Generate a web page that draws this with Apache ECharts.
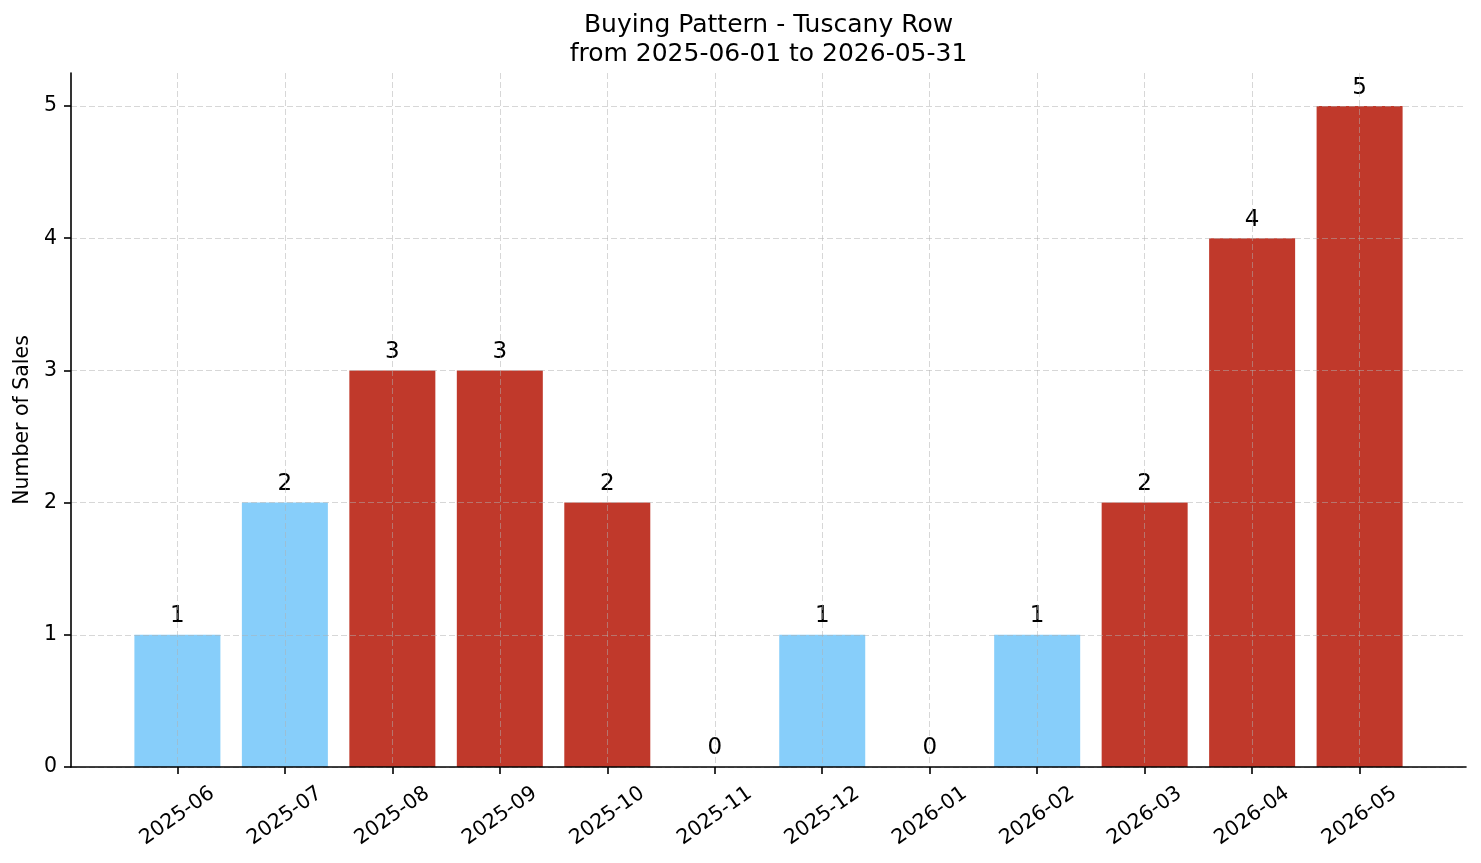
<!DOCTYPE html>
<html>
<head>
<meta charset="utf-8">
<script src="https://cdn.jsdelivr.net/npm/echarts@6/dist/echarts.min.js"></script>
<style>
  html, body { margin: 0; padding: 0; background: #fff; }
  #chart { width: 1481px; height: 863px; }
</style>
</head>
<body>
<div id="chart"></div>
<script>
// ---- data ----
const titleLines = ['Buying Pattern - Tuscany Row', 'from 2025-06-01 to 2026-05-31'];
const yAxisName = 'Number of Sales';
const months = ['2025-06', '2025-07', '2025-08', '2025-09', '2025-10', '2025-11',
                '2025-12', '2026-01', '2026-02', '2026-03', '2026-04', '2026-05'];
const sales = [1, 2, 3, 3, 2, 0, 1, 0, 1, 2, 4, 5];
const tier = ['low', 'low', 'high', 'high', 'high', 'low', 'low', 'low', 'low', 'high', 'high', 'high'];
const yTicks = [0, 1, 2, 3, 4, 5];

// ---- styles ----
const COLORS = { low: '#87CEFA', high: '#C0392B' };
const FONT = '"DejaVu Sans", "Liberation Sans", sans-serif';
const gridLine = { show: true, lineStyle: { color: 'rgba(176,176,176,0.5)', width: 1, type: [6, 3] } };

const xIdx = months.map((m, i) => i);
const chart = echarts.init(document.getElementById('chart'), null, { renderer: 'canvas' });
chart.setOption({
  animation: false,
  backgroundColor: '#ffffff',
  title: {
    text: titleLines.join('\n'),
    left: 768.5,
    top: 11,
    padding: 0,
    textAlign: 'center',
    textStyle: { fontFamily: FONT, fontSize: 25, fontWeight: 'normal', color: '#000', lineHeight: 29 }
  },
  grid: { left: 71, right: 15, top: 73, bottom: 96, containLabel: false },
  xAxis: {
    type: 'value',
    min: -0.99,
    max: 11.99,
    z: 3,
    axisLine: { show: true, onZero: false, lineStyle: { color: '#000', width: 1.6 } },
    axisTick: { show: true, customValues: xIdx, length: 7, lineStyle: { color: '#000', width: 1.6 } },
    axisLabel: {
      customValues: xIdx,
      formatter: v => months[Math.round(v)] || '',
      rotate: 35,
      align: 'center',
      verticalAlign: 'middle',
      margin: 49,
      fontFamily: FONT, fontSize: 20.5, color: '#000'
    },
    splitLine: gridLine
  },
  yAxis: {
    type: 'value',
    min: 0,
    max: 5.25,
    z: 3,
    name: yAxisName,
    nameLocation: 'middle',
    nameGap: 37,
    nameRotate: 90,
    nameTextStyle: { fontFamily: FONT, fontSize: 20.5, color: '#000' },
    axisLine: { show: true, onZero: false, lineStyle: { color: '#000', width: 1.6 } },
    axisTick: { show: true, customValues: yTicks, length: 7, lineStyle: { color: '#000', width: 1.6 } },
    axisLabel: { customValues: yTicks, margin: 14, fontFamily: FONT, fontSize: 20.5, color: '#000' },
    splitLine: gridLine
  },
  series: [{
    type: 'bar',
    barWidth: 86,
    data: sales.map((v, i) => ({ value: [i, v], itemStyle: { color: COLORS[tier[i]] } })),
    label: {
      show: true,
      position: 'top',
      distance: 7,
      formatter: p => String(p.value[1]),
      fontFamily: FONT, fontSize: 23, color: '#000'
    }
  }]
});
</script>
</body>
</html>
